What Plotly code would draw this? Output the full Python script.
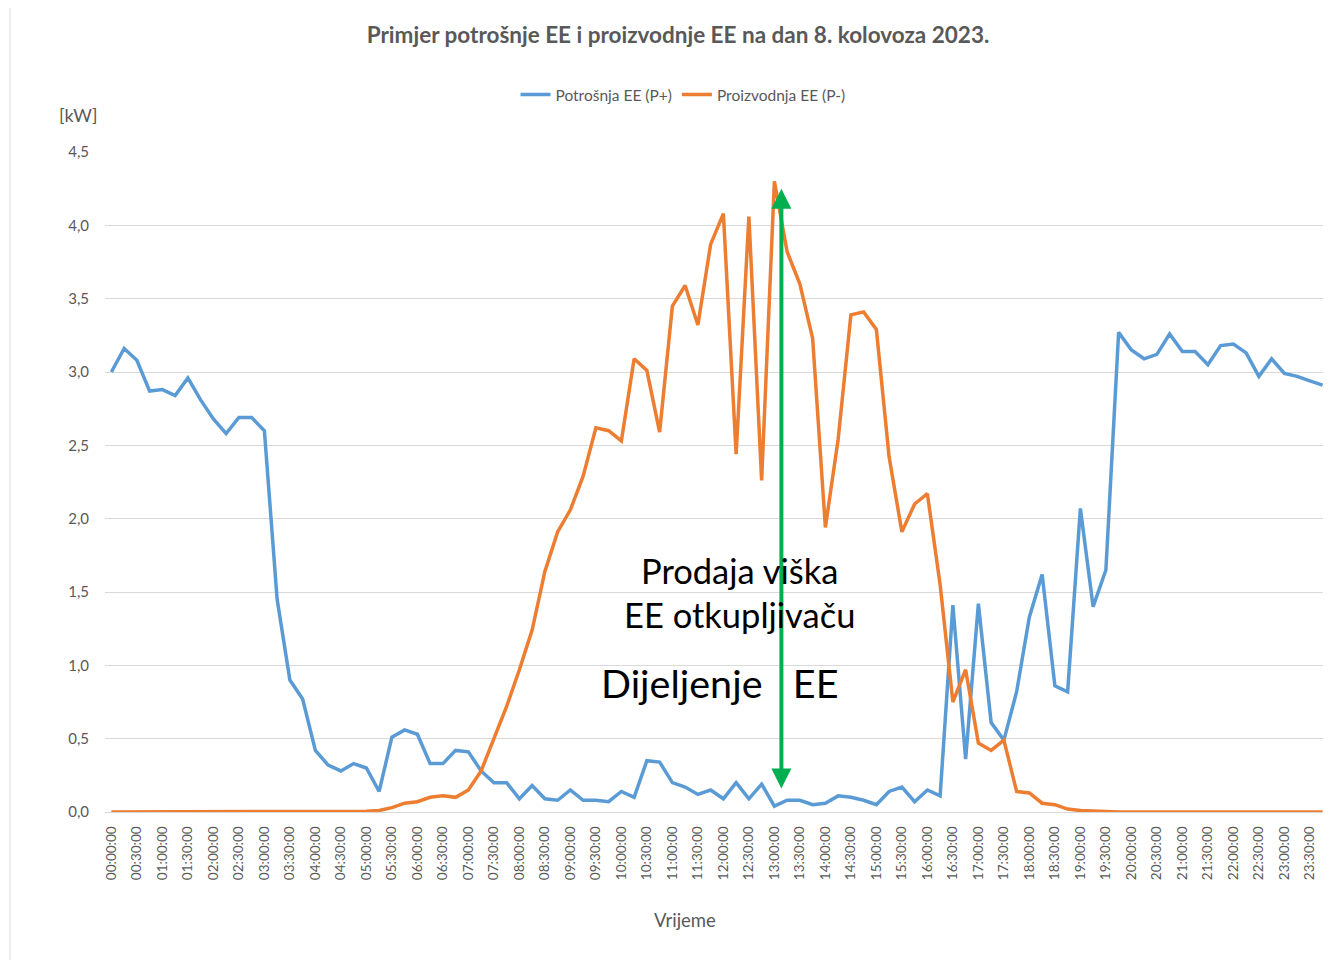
import plotly.graph_objects as go

# 15-minute timestamps for the day
times = [f"{h:02d}:{m:02d}:00" for h in range(24) for m in (0, 15, 30, 45)]
tick_labels = [t for t in times if t[3:5] in ("00", "30")]

potrosnja = [
    3.00, 3.16, 3.08, 2.87, 2.88, 2.84, 2.96, 2.81, 2.68, 2.58, 2.69, 2.69,
    2.60, 1.45, 0.90, 0.77, 0.42, 0.32, 0.28, 0.33, 0.30, 0.14, 0.51, 0.56,
    0.53, 0.33, 0.33, 0.42, 0.41, 0.28, 0.20, 0.20, 0.09, 0.18, 0.09, 0.08,
    0.15, 0.08, 0.08, 0.07, 0.14, 0.10, 0.35, 0.34, 0.20, 0.17, 0.12, 0.15,
    0.09, 0.20, 0.09, 0.19, 0.04, 0.08, 0.08, 0.05, 0.06, 0.11, 0.10, 0.08,
    0.05, 0.14, 0.17, 0.07, 0.15, 0.11, 1.41, 0.36, 1.42, 0.61, 0.49, 0.82,
    1.33, 1.62, 0.86, 0.82, 2.07, 1.40, 1.65, 3.27, 3.15, 3.09, 3.12, 3.26,
    3.14, 3.14, 3.05, 3.18, 3.19, 3.13, 2.97, 3.09, 2.99, 2.97, 2.94, 2.91,
]

proizvodnja = [
    0, 0, 0, 0, 0, 0, 0, 0, 0, 0, 0, 0,
    0, 0, 0, 0, 0, 0, 0, 0, 0.005, 0.01, 0.03, 0.06,
    0.07, 0.10, 0.11, 0.10, 0.15, 0.28, 0.50, 0.72, 0.97, 1.24, 1.64, 1.91,
    2.06, 2.29, 2.62, 2.60, 2.53, 3.09, 3.01, 2.59, 3.45, 3.59, 3.32, 3.87,
    4.08, 2.44, 4.06, 2.26, 4.30, 3.82, 3.60, 3.23, 1.94, 2.54, 3.39, 3.41,
    3.29, 2.42, 1.91, 2.10, 2.17, 1.55, 0.75, 0.97, 0.47, 0.42, 0.49, 0.14,
    0.13, 0.06, 0.05, 0.02, 0.01, 0.005, 0, 0, 0, 0, 0, 0,
    0, 0, 0, 0, 0, 0, 0, 0, 0, 0, 0, 0,
]

BLUE = "#5B9BD5"
ORANGE = "#ED7D31"
GREEN = "#00B050"
GRAY_TXT = "#595959"
GRID = "#D9D9D9"
FONT = "Lato"

# page offset (browser body margin) and layout geometry
OFF = 8
W, H = 1331 - OFF, 960 - OFF
ML, MR, MT, MB = 105 - OFF, 2, 152 - OFF, 148
PW = W - ML - MR
PH = H - MT - MB


def px_x(px):
    return (px - OFF - ML) / PW


def px_y(py):
    return (H - MB - (py - OFF)) / PH


fig = go.Figure()
fig.add_trace(go.Scatter(x=times, y=potrosnja, mode="lines", name="Potrošnja EE (P+)",
                         line=dict(color=BLUE, width=3.5)))
fig.add_trace(go.Scatter(x=times, y=proizvodnja, mode="lines", name="Proizvodnja EE (P-)",
                         line=dict(color=ORANGE, width=3.5)))

# arrow position (category index) and ends
arrow_x = 52.55
arrow_y0 = 0.15
arrow_y1 = 4.25

fig.add_annotation(x=arrow_x, y=arrow_y1, ax=arrow_x, ay=arrow_y0, xref="x", yref="y",
                   axref="x", ayref="y", text="", showarrow=True, arrowhead=2, startarrowhead=2,
                   arrowside="end+start", arrowsize=1.0, startarrowsize=1.0, arrowwidth=4,
                   arrowcolor=GREEN)

fig.add_annotation(x=49.3, y=1.65, xref="x", yref="y", text="Prodaja viška", showarrow=False,
                   font=dict(family=FONT, size=34.5, color="black"))
fig.add_annotation(x=49.3, y=1.35, xref="x", yref="y", text="EE otkupljivaču", showarrow=False,
                   font=dict(family=FONT, size=34.5, color="black"))
fig.add_annotation(x=47.7, y=0.88, xref="x", yref="y", text="Dijeljenje&nbsp;&nbsp;&nbsp;EE",
                   showarrow=False, font=dict(family=FONT, size=39.5, color="black"))

fig.add_annotation(x=px_x(78), y=px_y(115), xref="paper", yref="paper", text="[kW]",
                   showarrow=False, xanchor="center", yanchor="middle",
                   font=dict(family=FONT, size=18, color=GRAY_TXT))
fig.add_annotation(x=px_x(685), y=px_y(920), xref="paper", yref="paper", text="Vrijeme",
                   showarrow=False, xanchor="center", yanchor="middle",
                   font=dict(family=FONT, size=18.5, color=GRAY_TXT))

# outer chart border
fig.add_shape(type="line", xref="paper", yref="paper", x0=px_x(10), x1=px_x(10),
              y0=px_y(965), y1=px_y(5), line=dict(color=GRID, width=1))
fig.add_shape(type="line", xref="paper", yref="paper", x0=px_x(10), x1=px_x(1335),
              y0=px_y(5), y1=px_y(5), line=dict(color=GRID, width=1))

fig.update_layout(
    width=W, height=H,
    margin=dict(l=ML, r=MR, t=MT, b=MB),
    paper_bgcolor="white", plot_bgcolor="white",
    separators=",.",
    font=dict(family=FONT, color=GRAY_TXT),
    title=dict(text="<b>Primjer potrošnje EE i proizvodnje EE na dan 8. kolovoza 2023.</b>",
               x=(678 - OFF) / W, xanchor="center", y=1 - (35 - OFF) / H, yanchor="middle",
               font=dict(family=FONT, size=22.5, color=GRAY_TXT)),
    legend=dict(orientation="h", x=px_x(683), xanchor="center", y=px_y(95), yanchor="middle",
                font=dict(family=FONT, size=15.5, color=GRAY_TXT)),
    xaxis=dict(type="category", range=[-0.5, len(times) - 0.5], tickmode="array",
               tickvals=tick_labels, ticktext=tick_labels, tickangle=-90,
               tickfont=dict(family=FONT, size=13.5, color=GRAY_TXT), ticklabelstandoff=8,
               showgrid=False, showline=True, linecolor=GRID, ticks=""),
    yaxis=dict(range=[0, 4.5], dtick=0.5, tickformat=".1f", showgrid=True, gridcolor=GRID,
               gridwidth=1, zeroline=True, zerolinecolor=GRID, showline=False, ticks="",
               ticklabelstandoff=15,
               tickfont=dict(family=FONT, size=15, color=GRAY_TXT)),
)

fig.write_html("out.html")
